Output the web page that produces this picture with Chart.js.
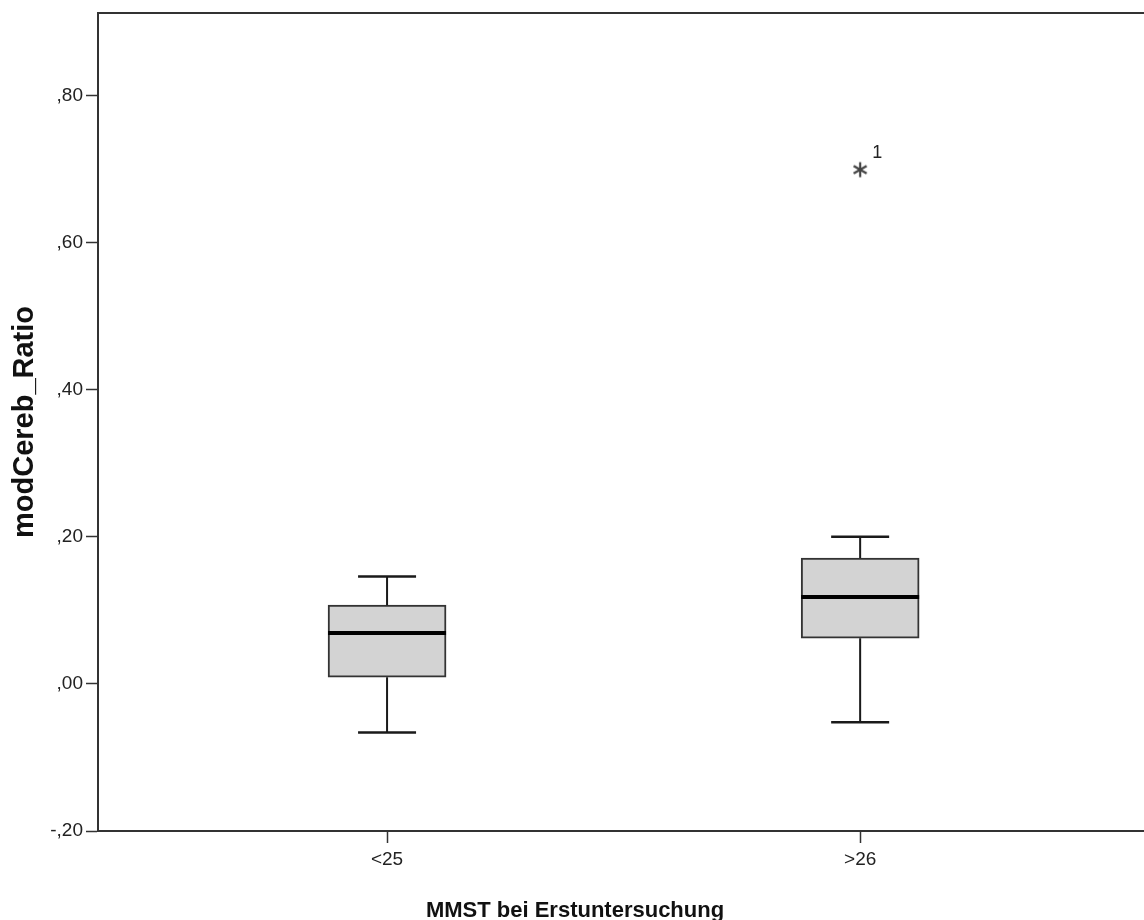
<!DOCTYPE html>
<html>
<head>
<meta charset="utf-8">
<script src="https://cdn.jsdelivr.net/npm/chart.js@4"></script>
<style>
  html, body { margin: 0; padding: 0; background: #fff; overflow: hidden; }
  #wrap { width: 1144px; height: 920px; }
  canvas { display: block; }
</style>
</head>
<body>
<div id="wrap"><canvas id="boxChart" width="1144" height="920"></canvas></div>
<script>
// groups on the x axis (positions 1 and 2)
const categories = ['<25', '>26'];
const groupPos = [1, 2];
// five-number summaries
const whiskerLow = [-0.066, -0.052];
const q1 = [0.009, 0.062];
const median = [0.069, 0.118];
const q3 = [0.107, 0.171];
const whiskerHigh = [0.146, 0.200];
// extreme value (SPSS asterisk) and its case label
const outlierGroup = [2];
const outlierValue = [0.699];
const outlierLabel = ['1'];
// y axis
const yTicks = [-0.2, 0, 0.2, 0.4, 0.6, 0.8];
const yMin = -0.2, yMax = 0.912;
const xTitle = 'MMST bei Erstuntersuchung';

const FONT = "'Liberation Sans', Arial, sans-serif";
const INK = '#333';

// asterisk marker like SPSS uses for extremes
function makeAsterisk() {
    const c = document.createElement('canvas');
    c.width = 18; c.height = 18;
    const g = c.getContext('2d');
    g.strokeStyle = '#444';
    g.lineWidth = 2.2;
    for (let a = 90; a < 270; a += 60) {
        const r = a * Math.PI / 180;
        g.beginPath();
        g.moveTo(9 + Math.cos(r) * 7.5, 9 + Math.sin(r) * 7.5);
        g.lineTo(9 - Math.cos(r) * 7.5, 9 - Math.sin(r) * 7.5);
        g.stroke();
    }
    return c;
}

const boxExtras = {
    id: 'boxExtras',
    afterDatasetsDraw(chart) {
        const { ctx, scales: { x, y }, chartArea } = chart;
        ctx.save();
        // frame line along the top
        ctx.strokeStyle = INK;
        ctx.lineWidth = 2;
        ctx.beginPath();
        ctx.moveTo(chartArea.left, chartArea.top);
        ctx.lineTo(chartArea.right, chartArea.top);
        ctx.stroke();

        const capHalf = 29;
        const boxHalf = 59;
        groupPos.forEach((g, i) => {
            const px = x.getPixelForValue(g);
            ctx.strokeStyle = '#1a1a1a';
            ctx.lineWidth = 2;
            // whiskers
            ctx.beginPath();
            ctx.moveTo(px, y.getPixelForValue(q3[i]));
            ctx.lineTo(px, y.getPixelForValue(whiskerHigh[i]));
            ctx.moveTo(px, y.getPixelForValue(q1[i]));
            ctx.lineTo(px, y.getPixelForValue(whiskerLow[i]));
            ctx.stroke();
            // caps
            ctx.lineWidth = 2.5;
            ctx.beginPath();
            const hi = y.getPixelForValue(whiskerHigh[i]);
            const lo = y.getPixelForValue(whiskerLow[i]);
            ctx.moveTo(px - capHalf, hi); ctx.lineTo(px + capHalf, hi);
            ctx.moveTo(px - capHalf, lo); ctx.lineTo(px + capHalf, lo);
            ctx.stroke();
            // median
            ctx.strokeStyle = '#000';
            ctx.lineWidth = 4;
            const m = y.getPixelForValue(median[i]);
            ctx.beginPath();
            ctx.moveTo(px - boxHalf, m); ctx.lineTo(px + boxHalf, m);
            ctx.stroke();
        });

        // case labels next to the extremes
        ctx.fillStyle = '#222';
        ctx.font = '18px ' + FONT;
        ctx.textAlign = 'left';
        ctx.textBaseline = 'middle';
        outlierLabel.forEach((t, i) => {
            ctx.fillText(t, x.getPixelForValue(outlierGroup[i]) + 12, y.getPixelForValue(outlierValue[i]) - 17);
        });

        // x axis title (SPSS centres it a bit left of the visible plot middle)
        ctx.fillStyle = '#111';
        ctx.font = 'bold 22px ' + FONT;
        ctx.textAlign = 'center';
        ctx.textBaseline = 'alphabetic';
        ctx.fillText(xTitle, 575, 917);
        ctx.restore();
    }
};

const ctx = document.getElementById('boxChart').getContext('2d');
new Chart(ctx, {
    type: 'bar',
    data: {
        datasets: [{
            label: 'box',
            data: groupPos.map((g, i) => ({ x: g, y: [q1[i], q3[i]] })),
            backgroundColor: '#d3d3d3',
            borderColor: '#333',
            borderWidth: 2,
            borderSkipped: false,
            barThickness: 118
        }, {
            type: 'scatter',
            label: 'extremes',
            data: outlierGroup.map((g, i) => ({ x: g, y: outlierValue[i] })),
            pointStyle: makeAsterisk(),
            pointRadius: 9
        }]
    },
    options: {
        responsive: false,
        animation: false,
        layout: { autoPadding: false, padding: { top: 13, left: 0, right: 0, bottom: 0 } },
        plugins: { legend: { display: false }, tooltip: { enabled: false } },
        scales: {
            x: {
                type: 'linear',
                offset: false,
                min: 0.389,
                max: 2.6,
                afterBuildTicks: s => { s.ticks = groupPos.map(v => ({ value: v })); },
                afterFit: s => { s.height = 89; s.paddingLeft = 0; s.paddingRight = 0; },
                grid: { offset: false, drawOnChartArea: false, drawTicks: true, tickLength: 12, tickColor: INK, tickWidth: 1.5 },
                border: { display: true, color: INK, width: 2 },
                ticks: {
                    autoSkip: false,
                    maxRotation: 0,
                    padding: 5,
                    color: '#222',
                    font: { family: FONT, size: 19 },
                    callback: v => categories[groupPos.indexOf(v)]
                }
            },
            y: {
                min: yMin,
                max: yMax,
                afterBuildTicks: s => { s.ticks = yTicks.map(v => ({ value: v })); },
                afterFit: s => { s.width = 98; s.paddingTop = 0; s.paddingBottom = 0; },
                grid: { drawOnChartArea: false, drawTicks: true, tickLength: 12, tickColor: INK, tickWidth: 1.5 },
                border: { display: true, color: INK, width: 2 },
                ticks: {
                    padding: 3,
                    color: '#222',
                    font: { family: FONT, size: 19 },
                    callback: v => v.toFixed(2).replace('0.', ',')
                },
                title: {
                    display: true,
                    text: 'modCereb_Ratio',
                    color: '#111',
                    font: { family: FONT, size: 29, weight: 'bold', lineHeight: 1 },
                    padding: { top: 10, bottom: 0 }
                }
            }
        }
    },
    plugins: [boxExtras]
});
</script>
</body>
</html>
